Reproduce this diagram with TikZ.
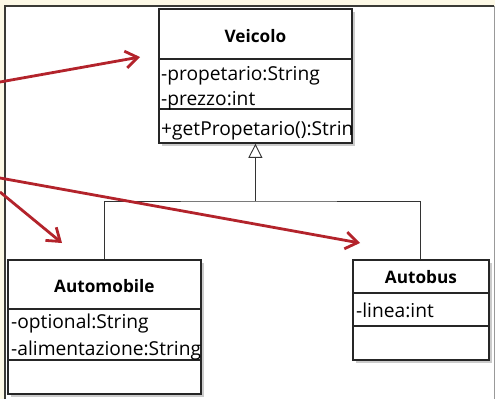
\documentclass[tikz,border=0pt]{standalone}
\usepackage{fontspec}
\setmainfont{Open Sans}
\usepackage{xcolor}
\usetikzlibrary{arrows.meta,shadows}
\definecolor{bgcream}{HTML}{FDF9E6}
\definecolor{paneldark}{HTML}{3A3A36}
\definecolor{hintred}{HTML}{B3232B}
\tikzstyle{classbox} = [draw=black!85, line width=1.8pt, fill=white,
    rectangle, inner sep=0pt, anchor=north west,
    drop shadow={shadow xshift=3pt, shadow yshift=-3pt, fill=black!40, opacity=.5}]
\tikzstyle{classname} = [font=\bfseries\fontsize{17.2}{20}\selectfont, anchor=base, inner sep=0pt]
\tikzstyle{member} = [font=\fontsize{19.2}{23}\selectfont, anchor=base west, inner sep=0pt]
\tikzstyle{divider} = [draw=black!85, line width=1.3pt]
\tikzstyle{hint} = [draw=hintred, line width=2.8pt,
    -{Straight Barb[length=12pt, width=17pt, line width=2.8pt]}]

\begin{document}
\begin{tikzpicture}[x=1pt, y=-1pt]
\useasboundingbox (0,0) rectangle (495,399);
\fill[bgcream] (0,0) rectangle (495,399);
\fill[white] (5,6) rectangle (494,399);
\draw[black!40] (494,6) -- (494,399);
\draw[paneldark, line width=2pt] (5,399) -- (5,6) -- (494,6);

% superclass
\node[classbox, minimum width=193pt, minimum height=134pt] (veicolo) at (158,8) {};
\draw[divider] (veicolo.west |- 0,59) -- (veicolo.east |- 0,59);
\draw[divider] (veicolo.west |- 0,109) -- (veicolo.east |- 0,109);
\node[classname] (veicolo-name) at (veicolo.north |- 0,42) {Veicolo};
\node[member] (veicolo-a1) at (161,80) {-propetario:String};
\node[member] (veicolo-a2) at (161,105) {-prezzo:int};
\node[member] (veicolo-m1) at (161,135) {+getPropetario():Strin};

% subclasses
\node[classbox, minimum width=193pt, minimum height=134pt] (automobile) at (7,259) {};
\draw[divider] (automobile.west |- 0,309) -- (automobile.east |- 0,309);
\draw[divider] (automobile.west |- 0,360) -- (automobile.east |- 0,360);
\node[classname] (automobile-name) at (automobile.north |- 0,292) {Automobile};
\node[member] (automobile-a1) at (11,328) {-optional:String};
\node[member] (automobile-a2) at (11,355) {-alimentazione:String};

\node[classbox, minimum width=136pt, minimum height=100pt] (autobus) at (352,259) {};
\draw[divider] (autobus.west |- 0,293) -- (autobus.east |- 0,293);
\draw[divider] (autobus.west |- 0,326) -- (autobus.east |- 0,326);
\node[classname] (autobus-name) at (autobus.north |- 0,283) {Autobus};
\node[member] (autobus-a1) at (356,317) {-linea:int};

% generalization
\coordinate (joint) at (veicolo.south |- 0,201);
\draw[black!80, line width=0.9pt] (automobile.north) |- (joint) -| (autobus.north);
\draw[black!80, line width=0.9pt, -{Triangle[open, length=14pt, width=14pt, line width=0.9pt]}] (joint) -- (veicolo.south);

% red hints
\coordinate (src1) at (0,82);
\coordinate (src2) at (0,178);
\coordinate (src3) at (0,192);
\coordinate (tip1) at (140,57);
\coordinate (tip2) at (360,243);
\coordinate (tip3) at (62,243);
\draw[hint] (src1) -- (tip1);
\draw[hint] (src2) -- (tip2);
\draw[hint] (src3) -- (tip3);
\end{tikzpicture}
\end{document}
